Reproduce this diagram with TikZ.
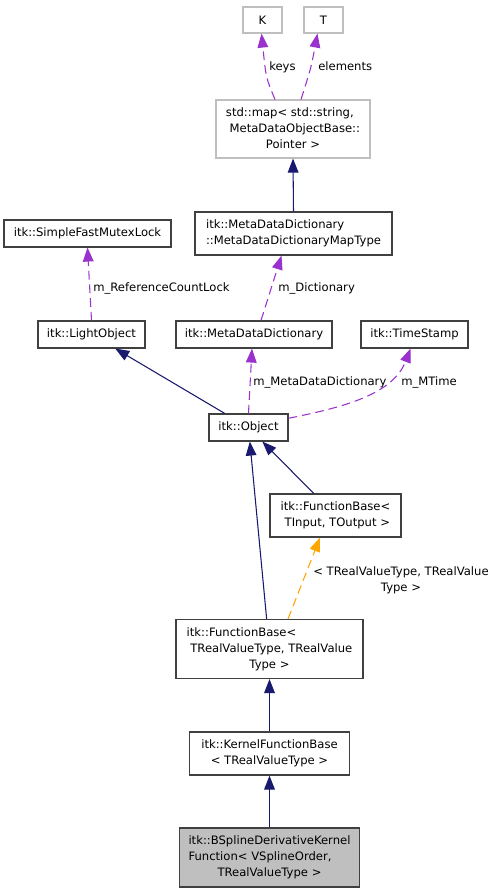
\documentclass[tikz,border=0pt]{standalone}
\usepackage{fontspec}
\setmainfont{DejaVu Sans}
\usetikzlibrary{arrows.meta,calc}
\definecolor{navy}{HTML}{191970}
\definecolor{violetx}{HTML}{9A32CD}
\definecolor{orngx}{HTML}{FFA500}
\definecolor{gryx}{HTML}{BFBFBF}
\newcommand\dfont{\fontsize{8.7}{12}\selectfont}
\newcommand\dxtab[1]{\begin{tabular}{@{}l@{}}#1\end{tabular}}
\newcommand\dxc[1]{\multicolumn{1}{@{}c@{}}{#1}}
\begin{document}
\begin{tikzpicture}[x=0.75pt,y=-0.75pt,
 cls/.style={draw=black!75,line width=0.85pt,fill=white,inner sep=0pt,font=\dfont},
 ext/.style={cls,draw=gryx},
 inh/.style={draw=navy,line width=0.8pt,-{Triangle[length=10.5pt,width=8pt]}},
 use/.style={draw=violetx,line width=0.8pt,dash pattern=on 6.5pt off 3.75pt,-{Triangle[length=10.5pt,width=8pt]}},
 tpl/.style={use,draw=orngx},
 elbl/.style={font=\dfont,inner sep=0pt,anchor=base west}]
\useasboundingbox[fill=white] (0,0) rectangle (495,893);

% nodes
\node[ext,minimum width=29.25pt,minimum height=19.5pt] (K) at (262.5,20) {K};
\node[ext,minimum width=29.25pt,minimum height=19.5pt] (T) at (323.5,20) {T};
\node[ext,minimum width=115.5pt,minimum height=43.5pt] (map) at (293,129)
  {\dxtab{std::map< std::string,\\\ MetaDataObjectBase::\\\dxc{Pointer >}}};
\node[cls,minimum width=147.75pt,minimum height=32.25pt] (maptype) at (293.5,233.5)
  {\dxtab{itk::MetaDataDictionary\\::MetaDataDictionaryMapType}};
\node[cls,minimum width=125.25pt,minimum height=20.25pt] (mutex) at (87.5,233.5) {itk::SimpleFastMutexLock};
\node[cls,minimum width=80.25pt,minimum height=20.25pt] (light) at (91.5,334.5) {itk::LightObject};
\node[cls,minimum width=117pt,minimum height=20.25pt] (mdd) at (254,334.5) {itk::MetaDataDictionary};
\node[cls,minimum width=80.25pt,minimum height=20.25pt] (ts) at (414.5,334.5) {itk::TimeStamp};
\node[cls,minimum width=59.25pt,minimum height=20.25pt] (obj) at (248.5,427.5) {itk::Object};
\node[cls,minimum width=98.25pt,minimum height=32.25pt] (fbin) at (335.5,515.5)
  {\dxtab{itk::FunctionBase<\\\dxc{\ TInput, TOutput >}}};
\node[cls,minimum width=140.25pt,minimum height=44.25pt] (fbreal) at (269.5,649)
  {\dxtab{itk::FunctionBase<\\\ TRealValueType, TRealValue\\\dxc{Type >}}};
\node[cls,minimum width=120pt,minimum height=32.25pt] (kernel) at (269.5,753.5)
  {\dxtab{itk::KernelFunctionBase\\\dxc{< TRealValueType >}}};
\node[cls,fill=gryx,minimum width=135pt,minimum height=44.25pt] (bspline) at (269.5,857.5)
  {\dxtab{itk::BSplineDerivativeKernel\\Function< VSplineOrder,\\\dxc{TRealValueType >}}};

% edges
\draw[use] ($(map.north)+(-18,0)$) .. controls (266,78) .. ($(K.south)+(-1,0)$);
\node[elbl] (lkeys) at (269,70) {keys};
\draw[use] ($(map.north)+(8,0)$) .. controls (311,68) .. ($(T.south)+(-6,0)$);
\node[elbl] (lelem) at (318,70) {elements};
\draw[inh] (maptype.north) -- (map.south);
\draw[use] ($(mdd.north)+(7,0)$) -- ($(maptype.south)+(-12,0)$);
\node[elbl] (ldict) at (278,291) {m\_Dictionary};
\draw[use] (light.north) -- (mutex.south);
\node[elbl] (lref) at (93,291) {m\_ReferenceCountLock};
\draw[inh] (obj) -- (light);
\draw[use] (obj.north) -- ($(mdd.south)+(-2,0)$);
\node[elbl] (lmdd) at (253,385) {m\_MetaDataDictionary};
\draw[use] (obj.13) .. controls (345,407) and (393,394) .. ($(ts.south)+(-4,0)$);
\node[elbl] (lmt) at (401,385) {m\_MTime};
\draw[inh] (fbin) -- (obj);
\draw[inh] (fbreal) -- (obj);
\draw[tpl] ($(fbreal.north)+(18.5,0)$) -- ($(fbin.south)+(-15.5,0)$);
\node[font=\dfont,inner sep=0pt,align=center] (ltpl) at (401,580) {< TRealValueType, TRealValue\\Type >};
\draw[inh] (kernel) -- (fbreal);
\draw[inh] (bspline) -- (kernel);
\end{tikzpicture}
\end{document}
